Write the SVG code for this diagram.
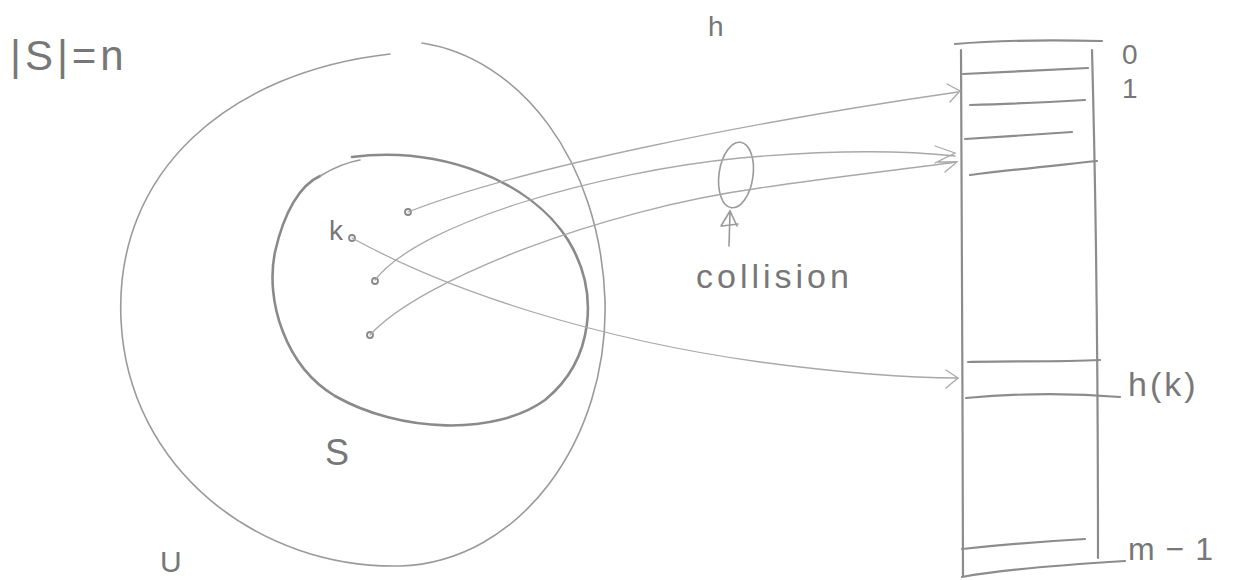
<svg xmlns="http://www.w3.org/2000/svg" width="1250" height="580" viewBox="0 0 1250 580">
<style>
.txt{font-family:"Liberation Sans","DejaVu Sans",sans-serif;fill:#777}
.thin{fill:none;stroke:#a8a8a8;stroke-width:1.3;stroke-linecap:round}
.set{fill:none;stroke:#9a9a9a;stroke-width:1.6;stroke-linecap:round}
.setS{fill:none;stroke:#8a8a8a;stroke-width:2.6;stroke-linecap:round}
.tab{fill:none;stroke:#8c8c8c;stroke-width:2.2;stroke-linecap:round}
.dot{fill:none;stroke:#888;stroke-width:1.8}
</style>
<rect width="1250" height="580" fill="#fff"/>
<g id="universe">
<path class="set" d="M422,43 C520,58 600,160 605,300 C609,440 520,562 400,566 C260,569 128,470 121,320 C114,170 230,72 390,54"/>
<text class="txt" x="160" y="572" font-size="30">U</text>
</g>
<g id="set-S">
<path class="setS" d="M352,157 C440,146 530,180 568,240 C600,292 594,360 545,400 C495,436 400,433 335,396 C285,366 265,300 275,252 C284,212 300,185 320,176"/>
<path class="set" d="M320,176 C335,167 348,162 360,160"/>
<text class="txt" x="325" y="465" font-size="36">S</text>
</g>
<g id="size-label"><text class="txt" x="10" y="70" font-size="42" letter-spacing="4">|S|=n</text></g>
<g id="h-label"><text class="txt" x="708" y="36" font-size="28">h</text></g>
<g id="key-k">
<text class="txt" x="329" y="240" font-size="28">k</text>
<circle class="dot" cx="352" cy="238" r="3"/>
</g>
<g id="keys">
<circle class="dot" cx="408" cy="212" r="3"/>
<circle class="dot" cx="375" cy="281" r="3"/>
<circle class="dot" cx="370" cy="335" r="3"/>
</g>
<g id="table">
<path class="tab" d="M955,44 C1000,40 1060,40 1102,41"/>
<path class="tab" d="M961,50 C963,200 962,400 963,576"/>
<path class="tab" d="M1092,50 C1096,200 1098,400 1098,558"/>
<path class="tab" d="M963,74 C1000,72 1050,70 1088,68"/>
<path class="tab" d="M970,105 C1010,104 1050,102 1085,100"/>
<path class="tab" d="M965,139 C1000,137 1040,134 1072,132"/>
<path class="tab" d="M970,175 C1010,170 1060,165 1097,161"/>
<path class="tab" d="M968,362 C1010,361 1060,362 1100,360"/>
<path class="tab" d="M966,398 C1010,394 1060,392 1120,397"/>
<path class="tab" d="M962,549 C1000,545 1050,541 1085,539"/>
<path class="tab" d="M962,577 C1000,570 1060,565 1125,561"/>
<text class="txt" x="1122" y="64" font-size="28">0</text>
<text class="txt" x="1122" y="98" font-size="28">1</text>
<text class="txt" x="1128" y="396" font-size="34" letter-spacing="3">h(k)</text>
<text class="txt" x="1128" y="560" font-size="32" letter-spacing="1">m − 1</text>
</g>
<g id="collision">
<ellipse class="set" cx="736" cy="175" rx="17" ry="33" transform="rotate(8 736 175)"/>
<path class="set" d="M729,246 L730,212 M721,226 L730,211 L737,226 M722,226 L738,224"/>
<text class="txt" x="696" y="288" font-size="34" letter-spacing="4">collision</text>
</g>
<g id="connectors">
<path class="thin" d="M408,212 C520,168 750,122 958,92"/>
<path class="thin" d="M947,84 L960,91 L950,102"/>
<path class="thin" d="M375,280 C420,222 600,172 740,158 C830,150 900,150 955,156"/>
<path class="thin" d="M370,335 C420,280 600,210 760,188 C840,176 900,170 956,162"/>
<path class="thin" d="M935,146 L955,153 L935,163 M938,162 L957,162 L945,172"/>
<path class="thin" d="M352,238 C450,292 600,340 760,362 C850,374 910,378 958,378"/>
<path class="thin" d="M946,370 L958,378 L946,388"/>
</g>
</svg>
